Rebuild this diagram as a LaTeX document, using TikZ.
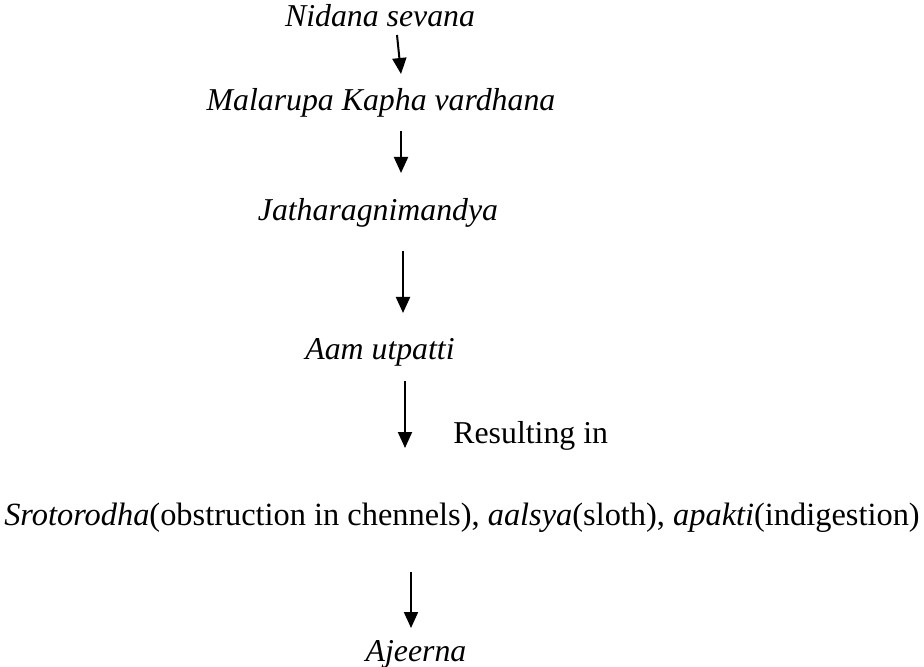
\documentclass[tikz,border=0pt]{standalone}
\usepackage{fontspec}
\setmainfont{Liberation Serif}
\usetikzlibrary{arrows.meta}

\begin{document}
\begin{tikzpicture}[x=0.5pt, y=-0.5pt,
  txt/.style={anchor=base, inner sep=0pt, font=\fontsize{15.9}{19}\selectfont},
  flow/.style={black, line width=1pt, -{Triangle[length=8pt, width=7pt]}}]
\useasboundingbox (0,0) rectangle (924,667);
% steps
\node[txt] (nidana) at (380,27) {\itshape Nidana sevana};
\node[txt] (malarupa) at (381,111) {\itshape Malarupa Kapha vardhana};
\node[txt] (jathara) at (378,221) {\itshape Jatharagnimandya};
\node[txt] (aam) at (380,359) {\itshape Aam utpatti};
\node[txt, anchor=base west] (result) at (453,443) {Resulting in};
\node[txt, font=\fontsize{16.2}{19}\selectfont] (sroto) at (462,525) {\textit{Srotorodha}(obstruction in chennels), \textit{aalsya}(sloth), \textit{apakti}(indigestion)};
\node[txt] (ajeerna) at (416,661) {\itshape Ajeerna};
% arrow ends
\coordinate (a1) at (397,35);  \coordinate (b1) at (401,74);
\coordinate (a2) at (401,131); \coordinate (b2) at (401,173);
\coordinate (a3) at (403,251); \coordinate (b3) at (403,313);
\coordinate (a4) at (405,381); \coordinate (b4) at (405,448);
\coordinate (a5) at (411,572); \coordinate (b5) at (411,628);
\foreach \i in {1,...,5}
  \draw[flow] (a\i) -- (b\i);
\end{tikzpicture}
\end{document}
